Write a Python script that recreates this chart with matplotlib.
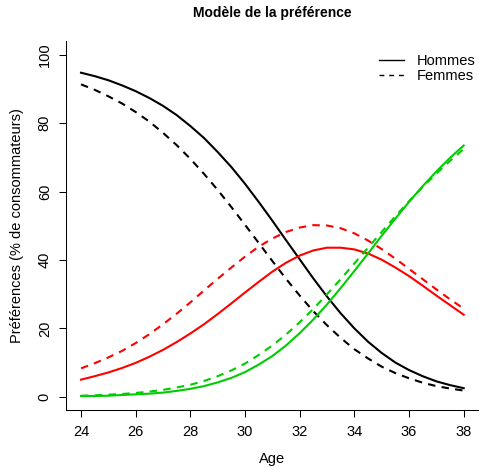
import matplotlib
matplotlib.use("Agg")
import matplotlib.pyplot as plt
from matplotlib.lines import Line2D

plt.rcParams['font.family'] = ['Liberation Sans', 'DejaVu Sans']

age = [24, 24.5, 25, 25.5, 26, 26.5, 27, 27.5, 28, 28.5, 29, 29.5, 30, 30.5, 31,
       31.5, 32, 32.5, 33, 33.5, 34, 34.5, 35, 35.5, 36, 36.5, 37, 37.5, 38]

# Hommes (solid)
h_noir = [94.8, 93.8, 92.6, 91.1, 89.4, 87.4, 85.1, 82.4, 79.2, 75.7, 71.6, 67.2, 62.3, 57.0, 51.5,
          45.8, 40.2, 34.6, 29.3, 24.4, 20.0, 16.1, 12.8, 10.0, 7.8, 6.0, 4.5, 3.4, 2.5]
h_rouge = [5.0, 6.0, 7.1, 8.4, 9.9, 11.7, 13.7, 16.0, 18.5, 21.2, 24.2, 27.3, 30.5, 33.6, 36.6,
           39.2, 41.3, 42.8, 43.6, 43.6, 43.1, 41.9, 40.1, 37.8, 35.3, 32.5, 29.6, 26.8, 24.0]
h_vert = [0.2, 0.2, 0.3, 0.5, 0.7, 0.9, 1.2, 1.7, 2.3, 3.1, 4.2, 5.5, 7.2, 9.4, 11.9,
          15.0, 18.6, 22.6, 27.0, 31.8, 36.8, 41.9, 47.1, 52.1, 57.0, 61.6, 65.9, 69.9, 73.5]

# Femmes (dashed)
f_noir = [91.4, 89.8, 87.9, 85.8, 83.3, 80.5, 77.2, 73.6, 69.6, 65.2, 60.5, 55.5, 50.3, 45.0, 39.7,
          34.5, 29.6, 25.0, 20.9, 17.2, 13.9, 11.2, 8.8, 6.9, 5.4, 4.1, 3.1, 2.4, 1.8]
f_rouge = [8.3, 9.8, 11.5, 13.4, 15.7, 18.3, 21.2, 24.3, 27.6, 31.1, 34.5, 37.8, 41.0, 43.9, 46.3,
           48.2, 49.5, 50.2, 50.1, 49.3, 47.8, 45.7, 43.2, 40.4, 37.4, 34.4, 31.4, 28.5, 25.8]
f_vert = [0.3, 0.4, 0.6, 0.8, 1.1, 1.5, 2.0, 2.7, 3.5, 4.6, 6.0, 7.7, 9.7, 12.2, 15.0,
          18.2, 21.8, 25.7, 30.0, 34.4, 39.0, 43.6, 48.2, 52.8, 57.2, 61.4, 65.3, 69.0, 72.5]

xticks = [24, 26, 28, 30, 32, 34, 36, 38]
yticks = [0, 20, 40, 60, 80, 100]

fig = plt.figure(figsize=(4.79, 4.68), dpi=100)
ax = fig.add_axes([0.1372, 0.1231, 0.8628, 0.7887])

lw = 1.5
dash = (3.6, 3.0)
ax.plot(age, h_noir, color='black', lw=lw)
ax.plot(age, f_noir, color='black', lw=lw, dashes=dash)
ax.plot(age, h_rouge, color='#FF0000', lw=lw)
ax.plot(age, f_rouge, color='#FF0000', lw=lw, dashes=dash)
ax.plot(age, h_vert, color='#00CD00', lw=lw)
ax.plot(age, f_vert, color='#00CD00', lw=lw, dashes=dash)

ax.set_xlim(23.44, 38.56)
ax.set_ylim(-4, 104)
ax.set_xticks(xticks)
ax.set_yticks(yticks)
ax.set_yticklabels([str(v) for v in yticks], rotation=90, va='center')
ax.tick_params(direction='out', length=5, width=0.75, labelsize=10.5)
ax.tick_params(axis='x', pad=5.5)
ax.tick_params(axis='y', pad=5)
for s in ['top', 'right']:
    ax.spines[s].set_visible(False)
for s in ['left', 'bottom']:
    ax.spines[s].set_linewidth(0.75)

fig.text(0.568, 0.0115, 'Age', ha='center', va='baseline', fontsize=10.5)
ax.set_ylabel('Préférences (% de consommateurs)', fontsize=10.5, labelpad=10)
fig.text(0.568, 0.972, 'Modèle de la préférence', ha='center', va='center',
         fontsize=10, fontweight='bold')

handles = [Line2D([], [], color='black', lw=1),
           Line2D([], [], color='black', lw=1, dashes=(3.5, 3.5))]
ax.legend(handles, ['Hommes', 'Femmes'], loc='upper right', frameon=False,
          fontsize=10.5, handlelength=1.75, handletextpad=0.85, labelspacing=0.12,
          borderaxespad=0.2, bbox_to_anchor=(1.012, 0.99))

fig.savefig('out.png', dpi=100)
